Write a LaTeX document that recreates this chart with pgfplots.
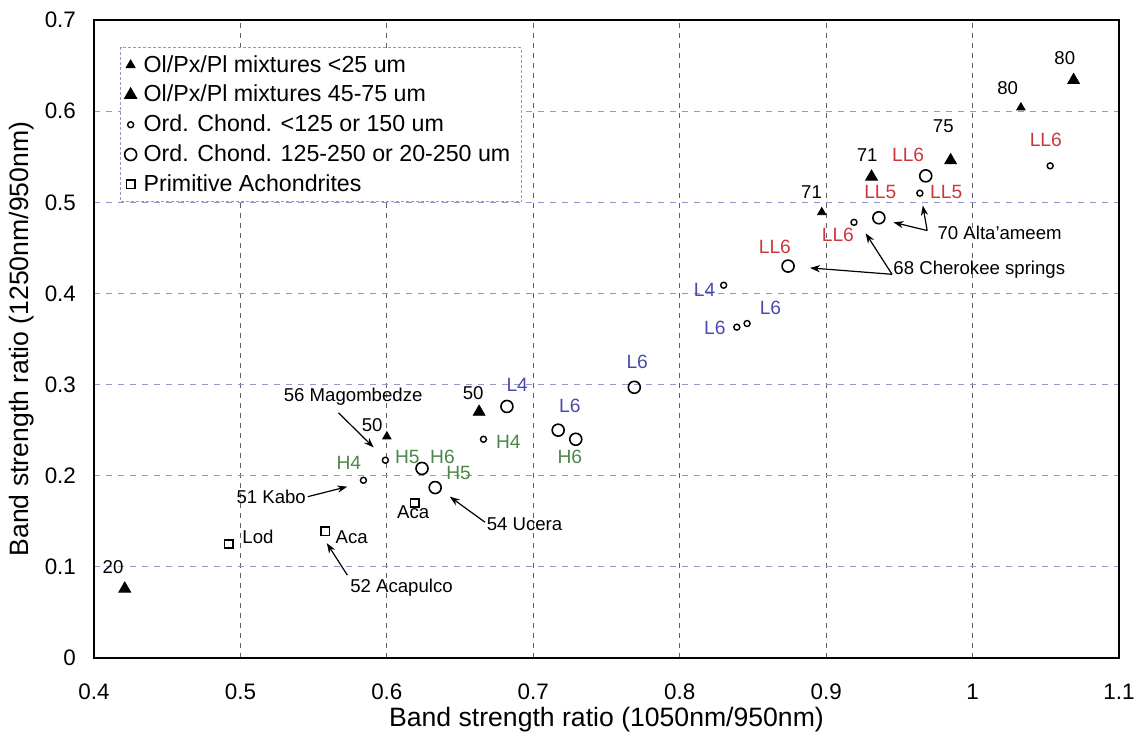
\documentclass[border=0pt]{standalone}
\usepackage{pgfplots}
\pgfplotsset{compat=1.18}
\usepackage{fontspec}
\setmainfont{Liberation Sans}
\usetikzlibrary{arrows.meta}

\definecolor{llred}{RGB}{205,55,60}
\definecolor{lblue}{RGB}{75,75,175}
\definecolor{hgreen}{RGB}{75,135,75}
\definecolor{hgrid}{RGB}{150,150,200}
\definecolor{vgrid}{RGB}{95,95,95}

% Ol/Px/Pl mixtures, <25 um
\pgfplotstableread{
x y
0.600 0.243
0.897 0.489
1.033 0.604
}\mixfine
% Ol/Px/Pl mixtures, 45-75 um
\pgfplotstableread{
x y
0.421 0.076
0.663 0.270
0.931 0.528
0.985 0.546
1.069 0.634
}\mixcoarse
% Ordinary chondrites, <125 or 150 um
\pgfplotstableread{
x y
0.584 0.195
0.599 0.217
0.666 0.240
0.830 0.409
0.839 0.363
0.846 0.367
0.919 0.478
0.964 0.510
1.053 0.540
}\ocfine
% Ordinary chondrites, 125-250 or 20-250 um
\pgfplotstableread{
x y
0.624 0.208
0.633 0.187
0.682 0.276
0.717 0.250
0.729 0.240
0.769 0.297
0.874 0.430
0.936 0.483
0.968 0.529
}\occoarse
% Primitive achondrites
\pgfplotstableread{
x y
0.492 0.125
0.558 0.139
0.619 0.170
}\primach

\tikzset{
  ann/.style={font=\fontsize{9.3}{11}\selectfont, inner sep=0pt},
  cl/.style={ann, font=\fontsize{9.6}{11}\selectfont},
  lead/.style={line width=0.6pt, -{Stealth[length=5pt,width=3.6pt]}},
}

\begin{document}
\begin{tikzpicture}
\useasboundingbox (-47pt,-41pt) rectangle (522pt,329pt);
\begin{axis}[
  at={(0pt,0pt)}, anchor=south west,
  scale only axis, width=512.5pt, height=319pt,
  xmin=0.4, xmax=1.1, ymin=0, ymax=0.7,
  xtick={0.4,0.5,0.6,0.7,0.8,0.9,1,1.1},
  ytick={0,0.1,0.2,0.3,0.4,0.5,0.6,0.7},
  /pgf/number format/assume math mode=true,
  clip=false,
  axis line style={line width=1pt},
  major tick length=0pt,
  grid=major,
  major x grid style={vgrid, line width=0.5pt, dash pattern=on 2.5pt off 2.5pt},
  major y grid style={hgrid, line width=0.6pt, dash pattern=on 3pt off 3pt},
  tick label style={font=\fontsize{11.2}{13}\selectfont},
  xticklabel style={anchor=center, yshift=-17pt},
  yticklabel style={anchor=east, xshift=-5.5pt},
  label style={font=\fontsize{13.3}{15}\selectfont},
  xlabel={Band strength ratio (1050nm/950nm)},
  ylabel={Band strength ratio (1250nm/950nm)},
  xlabel style={at={(axis description cs:0.5,-0.097)}, anchor=center},
  ylabel style={at={(axis description cs:-0.0702,0.5)}, anchor=center, rotate=0},
  legend style={
    at={(axis description cs:0.0254,0.9577)}, anchor=north west,
    draw=hgrid, line width=0.6pt, dash pattern=on 1.5pt off 1pt,
    font=\fontsize{11.6}{13}\selectfont,
    inner xsep=2pt, inner ysep=1.8pt, row sep=1pt,
    cells={anchor=west},
    nodes={solid, inner xsep=3.5pt},
  },
  legend image code/.code={\draw[solid] plot coordinates {(0.2cm,0cm)};},
]
\addplot[only marks, mark=triangle*, mark size=2.4pt, black, mark options={solid}] table {\mixfine};
\addlegendentry{Ol/Px/Pl mixtures <25 um}
\addplot[only marks, mark=triangle*, mark size=3.4pt, black, mark options={solid}] table {\mixcoarse};
\addlegendentry{Ol/Px/Pl mixtures 45-75 um}
\addplot[only marks, mark=o, mark size=1.5pt, black, line width=0.7pt, mark options={solid, fill=white}] table {\ocfine};
\addlegendentry{Ord. Chond. <125 or 150 um}
\addplot[only marks, mark=o, mark size=3pt, black, line width=0.8pt, mark options={solid, fill=white}] table {\occoarse};
\addlegendentry{Ord. Chond. 125-250 or 20-250 um}
\addplot[only marks, mark=square, mark size=2.1pt, black, line width=0.8pt, mark options={solid, fill=white}] table {\primach};
\addlegendentry{Primitive Achondrites}

% grain-size / composition labels next to the mixtures
\node[ann] at (axis cs:0.413,0.100) {20};
\node[ann] at (axis cs:0.590,0.255) {50};
\node[ann] at (axis cs:0.659,0.291) {50};
\node[ann] at (axis cs:0.890,0.511) {71};
\node[ann] at (axis cs:0.928,0.552) {71};
\node[ann] at (axis cs:0.980,0.583) {75};
\node[ann] at (axis cs:1.024,0.625) {80};
\node[ann] at (axis cs:1.063,0.658) {80};

% petrologic types of the chondrites
\node[cl, text=hgreen] at (axis cs:0.574,0.214) {H4};
\node[cl, text=hgreen] at (axis cs:0.614,0.221) {H5};
\node[cl, text=hgreen] at (axis cs:0.638,0.221) {H6};
\node[cl, text=hgreen] at (axis cs:0.649,0.203) {H5};
\node[cl, text=hgreen] at (axis cs:0.683,0.237) {H4};
\node[cl, text=hgreen] at (axis cs:0.725,0.221) {H6};
\node[cl, text=lblue] at (axis cs:0.689,0.300) {L4};
\node[cl, text=lblue] at (axis cs:0.725,0.277) {L6};
\node[cl, text=lblue] at (axis cs:0.771,0.325) {L6};
\node[cl, text=lblue] at (axis cs:0.817,0.404) {L4};
\node[cl, text=lblue] at (axis cs:0.862,0.384) {L6};
\node[cl, text=lblue] at (axis cs:0.824,0.362) {L6};
\node[cl, text=llred] at (axis cs:0.865,0.451) {LL6};
\node[cl, text=llred] at (axis cs:0.908,0.464) {LL6};
\node[cl, text=llred] at (axis cs:0.937,0.511) {LL5};
\node[cl, text=llred] at (axis cs:0.982,0.511) {LL5};
\node[cl, text=llred] at (axis cs:0.956,0.552) {LL6};
\node[cl, text=llred] at (axis cs:1.050,0.569) {LL6};

% primitive achondrites
\node[ann] at (axis cs:0.512,0.133) {Lod};
\node[ann] at (axis cs:0.576,0.133) {Aca};
\node[ann] at (axis cs:0.618,0.160) {Aca};

% named meteorites with leaders
\node[ann] at (axis cs:0.577,0.287) {56 Magombedze};
\draw[lead] (axis cs:0.567,0.269) -- (axis cs:0.591,0.231);
\node[ann] at (axis cs:0.521,0.177) {51 Kabo};
\draw[lead] (axis cs:0.546,0.177) -- (axis cs:0.573,0.188);
\node[ann] at (axis cs:0.610,0.077) {52 Acapulco};
\draw[lead] (axis cs:0.573,0.091) -- (axis cs:0.559,0.126);
\node[ann] at (axis cs:0.694,0.147) {54 Ucera};
\draw[lead] (axis cs:0.667,0.149) -- (axis cs:0.643,0.177);
\node[ann] at (axis cs:1.0185,0.466) {70 Alta'ameem};
\draw[lead] (axis cs:0.969,0.469) -- (axis cs:0.946,0.478);
\draw[lead] (axis cs:0.969,0.469) -- (axis cs:0.966,0.4965);
\node[ann] at (axis cs:1.0046,0.426) {68 Cherokee springs};
\draw[lead] (axis cs:0.945,0.421) -- (axis cs:0.889,0.428);
\draw[lead] (axis cs:0.945,0.421) -- (axis cs:0.927,0.466);
\end{axis}
\end{tikzpicture}
\end{document}
